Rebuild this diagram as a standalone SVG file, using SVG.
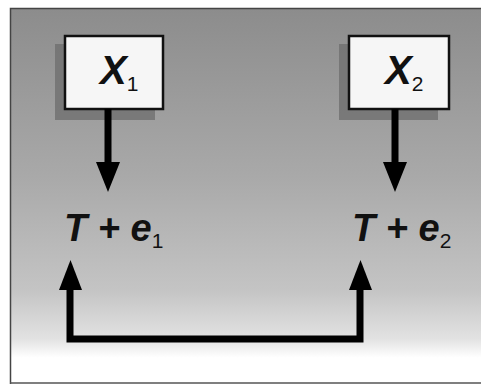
<svg xmlns="http://www.w3.org/2000/svg" width="481" height="384" viewBox="0 0 481 384">
<defs>
<linearGradient id="bg" x1="0" y1="0" x2="0" y2="1">
<stop offset="0" stop-color="#8c8c8c"/>
<stop offset="0.45" stop-color="#a9a9a9"/>
<stop offset="0.75" stop-color="#c4c4c4"/>
<stop offset="0.88" stop-color="#e2e2e2"/>
<stop offset="0.93" stop-color="#ffffff"/>
<stop offset="1" stop-color="#ffffff"/>
</linearGradient>
<linearGradient id="sh" x1="0" y1="0" x2="0" y2="1">
<stop offset="0" stop-color="#6e6e6e"/>
<stop offset="1" stop-color="#7a7a7a"/>
</linearGradient>
<marker id="ah" viewBox="0 0 24 30" refX="12" refY="30" markerWidth="24" markerHeight="30" markerUnits="userSpaceOnUse" orient="auto-start-reverse">
<path d="M0,0 L24,0 L12,30 Z" fill="#000"/>
</marker>
</defs>
<style>
.box{fill:#f6f6f6;stroke:#111;stroke-width:2.5}
.shadow{fill:#6f6f6f;opacity:0.8}
.lbl{font-family:"Liberation Sans",Arial,sans-serif;font-weight:bold;font-style:italic;fill:#111}
.sub{font-family:"Liberation Sans",Arial,sans-serif;font-size:21px;fill:#111}
.conn{fill:none;stroke:#000;stroke-width:7}
</style>
<rect x="10" y="8" width="471" height="376" fill="url(#bg)"/>
<path d="M10.5,384 V8.5 H481" fill="none" stroke="#444" stroke-width="1.5"/>
<line x1="10" y1="383" x2="481" y2="383" stroke="#555" stroke-width="1.5"/>
<g id="node-x1">
<rect class="shadow" x="55" y="44" width="100" height="76"/>
<rect class="box" x="65" y="36" width="98" height="73"/>
<text class="lbl" x="100" y="84" font-size="40">X<tspan class="sub" font-style="normal" font-weight="normal" dy="7">1</tspan></text>
</g>
<g id="node-x2">
<rect class="shadow" x="339" y="44" width="99" height="76"/>
<rect class="box" x="349" y="36" width="100" height="73"/>
<text class="lbl" x="385" y="84" font-size="40">X<tspan class="sub" font-style="normal" font-weight="normal" dy="7">2</tspan></text>
</g>
<g id="node-te1">
<text class="lbl" x="64" y="241" font-size="38">T + e<tspan class="sub" font-style="normal" font-weight="normal" dy="7">1</tspan></text>
</g>
<g id="node-te2">
<text class="lbl" x="352" y="241" font-size="38">T + e<tspan class="sub" font-style="normal" font-weight="normal" dy="7">2</tspan></text>
</g>
<g id="connectors">
<line class="conn" x1="108" y1="109" x2="108" y2="165" stroke-width="6"/>
<path d="M96,162 L120,162 L108,192 Z" fill="#000"/>
<line class="conn" x1="395" y1="109" x2="395" y2="165" stroke-width="6"/>
<path d="M383,162 L407,162 L395,192 Z" fill="#000"/>
<path class="conn" d="M70,287 V339 H360 V287"/>
<path d="M59,290 L82,290 L70.5,260 Z" fill="#000"/>
<path d="M349,290 L372,290 L360.5,260 Z" fill="#000"/>
</g>
</svg>
